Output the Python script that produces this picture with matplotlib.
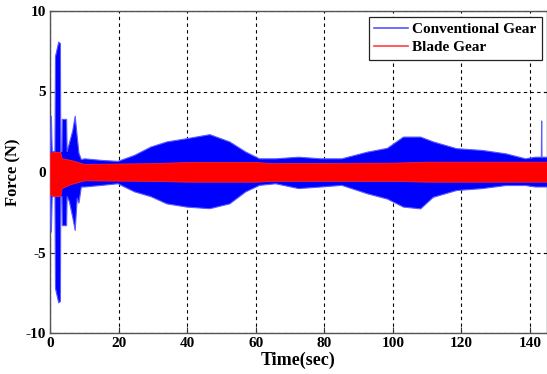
import numpy as np
import matplotlib.pyplot as plt
from matplotlib.lines import Line2D

# envelope of the conventional gear force signal
t_conv = [0.0, 0.25, 0.5, 1.3, 1.45, 2.4, 2.9, 3.0, 3.35, 3.45, 4.7, 4.85,
          5.5, 6.5, 7.2, 7.8, 8.3, 9.0, 10, 15, 19.7, 24.5, 29.3, 34, 39.8,
          46.5, 52.3, 57, 61, 65.7, 72.4, 79, 85, 92.6, 98.3, 103, 108, 111.7,
          118.5, 126, 132.9, 138.6, 141.5, 143.2, 143.3, 143.4, 145]
conv_upper = [1.8, 3.5, 1.3, 1.3, 7.2, 8.1, 8.0, 1.3, 1.3, 3.3, 3.3, 1.3,
              1.8, 2.6, 3.5, 2.2, 1.2, 0.8, 0.85, 0.75, 0.69, 1.06, 1.58, 1.9, 2.1,
              2.35, 1.9, 1.27, 0.85, 0.85, 0.95, 0.85, 0.85, 1.27, 1.5, 2.2, 2.2, 1.9,
              1.48, 1.37, 1.16, 0.85, 0.95, 0.95, 3.2, 0.95, 0.95]
conv_lower = [-2.7, -3.7, -1.5, -1.5, -7.2, -8.1, -8.0, -1.5, -1.5, -3.3, -3.3, -1.5,
              -1.8, -2.8, -3.6, -1.6, -1.9, -0.9, -0.9, -0.8, -0.7, -1.2, -1.5, -1.95, -2.15,
              -2.25, -1.95, -1.2, -0.8, -0.7, -1.0, -0.9, -0.8, -1.33, -1.65, -2.15, -2.26, -1.54,
              -1.12, -1.0, -0.81, -0.81, -0.9, -0.9, -0.9, -0.9, -0.9]

# envelope of the blade gear force signal
t_blade = [0.0, 1.4, 3.0, 3.4, 6, 10, 30, 40, 60, 65, 100, 110, 145]
blade_upper = [1.2, 1.25, 1.25, 0.85, 0.75, 0.5, 0.55, 0.62, 0.62, 0.55, 0.58, 0.64, 0.64]
blade_lower = [-1.4, -1.5, -1.5, -1.0, -0.75, -0.52, -0.55, -0.6, -0.6, -0.55, -0.55, -0.6, -0.6]

x_ticks = [0, 20, 40, 60, 80, 100, 120, 140]
y_ticks = [-10, -5, 0, 5, 10]

plt.rcParams['font.family'] = ['Liberation Serif', 'DejaVu Serif']
plt.rcParams['font.weight'] = 'bold'
plt.rcParams['axes.unicode_minus'] = False

fig = plt.figure(figsize=(5.47, 3.74), dpi=100)
ax = fig.add_axes([50 / 547, 1 - 333 / 374, 497 / 547, 322 / 374])

ax.fill_between(t_conv, conv_lower, conv_upper, facecolor='#0000ff', lw=0.8,
                edgecolor='#5a5aff', zorder=3)
ax.fill_between(t_blade, blade_lower, blade_upper, facecolor='#ff0000', lw=0.6,
                edgecolor='#ff2020', zorder=4)

ax.set_xlim(0, 145)
ax.set_ylim(-10, 10)
ax.set_xticks(x_ticks)
ax.set_yticks(y_ticks)
ax.grid(True, color='black', linestyle=(0, (3, 3)), linewidth=0.8, zorder=1)
ax.set_axisbelow(True)
ax.tick_params(direction='in', length=4, labelsize=11, pad=3, colors='#333333',
               labelcolor='black')
for s in ax.spines.values():
    s.set_color('#555555')
    s.set_linewidth(1.0)

ax.set_xlabel('Time(sec)', fontsize=13, fontweight='bold', labelpad=1)
ax.set_ylabel('Force (N)', fontsize=12, fontweight='bold', labelpad=3)

handles = [Line2D([], [], color='#5555ff', lw=1.2),
           Line2D([], [], color='#ff4040', lw=1.2)]
leg = ax.legend(handles, ['Conventional Gear', 'Blade Gear'],
                loc='upper right', bbox_to_anchor=(542 / 547, 1 - 17 / 374),
                bbox_transform=fig.transFigure, borderaxespad=0,
                fancybox=False, framealpha=1, edgecolor='#222222',
                prop={'size': 11, 'weight': 'bold'}, handlelength=2.2,
                handletextpad=0.3, labelspacing=0.3, borderpad=0.35)
leg.get_frame().set_linewidth(0.9)

fig.savefig('out.png', dpi=100)
